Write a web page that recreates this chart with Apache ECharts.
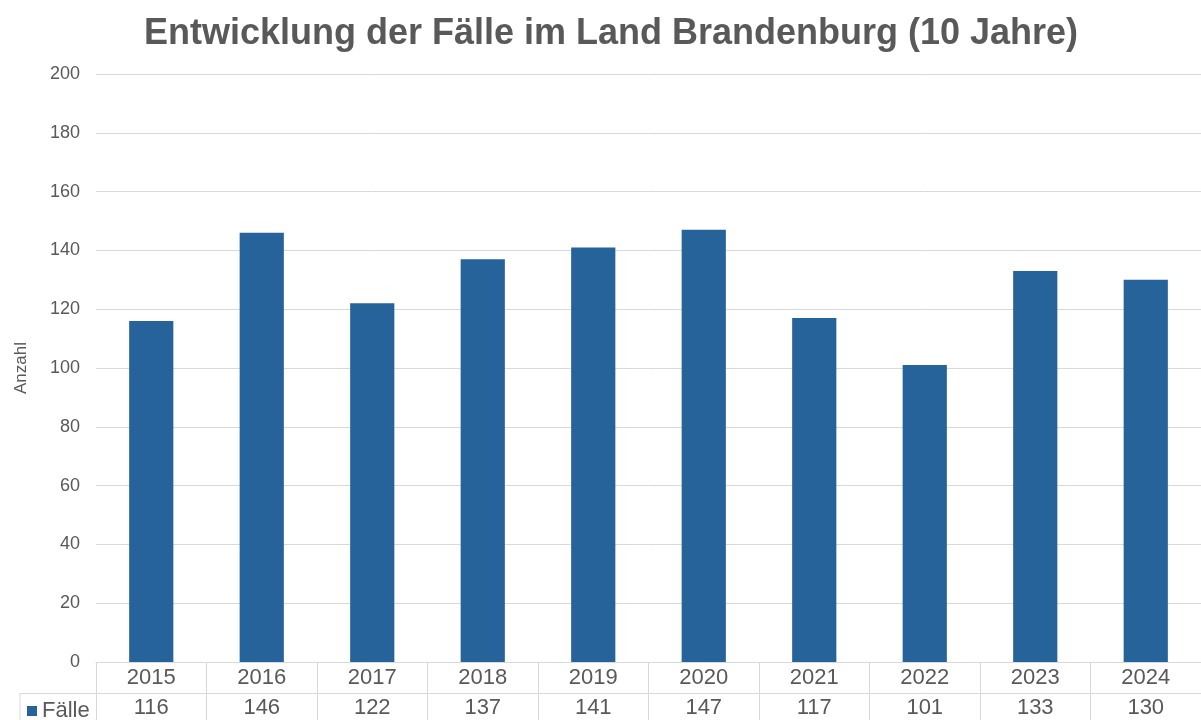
<!DOCTYPE html>
<html>
<head>
<meta charset="utf-8">
<script src="https://cdn.jsdelivr.net/npm/echarts@6/dist/echarts.min.js"></script>
<style>
  html, body { margin: 0; padding: 0; background: #fff; }
  #chart { width: 1201px; height: 720px; }
</style>
</head>
<body>
<div id="chart"></div>
<script>
const years = ["2015", "2016", "2017", "2018", "2019", "2020", "2021", "2022", "2023", "2024"];
const faelle = [116, 146, 122, 137, 141, 147, 117, 101, 133, 130];
const yTicks = { min: 0, max: 200, interval: 20 };

const textColor = "#595959";
const lineColor = "#d9d9d9";
const barColor = "#26639b";
const font = "Liberation Sans, Arial, sans-serif";

const chart = echarts.init(document.getElementById("chart"));

chart.setOption({
  animation: false,
  title: {
    text: "Entwicklung der Fälle im Land Brandenburg (10 Jahre)",
    left: 606,
    textAlign: "center",
    top: 11,
    textStyle: { fontFamily: font, fontSize: 36, fontWeight: "bold", color: textColor }
  },
  legend: {
    data: ["Fälle"],
    left: 22,
    top: 695,
    icon: "rect",
    itemWidth: 10,
    itemHeight: 10,
    itemGap: 5,
    textStyle: { fontFamily: font, fontSize: 22, color: textColor, padding: [0, 0, 0, 0] }
  },
  grid: { left: 96, right: 0, top: 74, bottom: 58 },
  xAxis: [
    {
      type: "category",
      data: years,
      axisLine: { lineStyle: { color: lineColor } },
      axisTick: { show: true, length: 58, lineStyle: { color: lineColor } },
      axisLabel: { margin: 5, fontFamily: font, fontSize: 22, color: textColor }
    },
    {
      type: "category",
      position: "bottom",
      offset: 31,
      data: faelle.map(String),
      axisLine: { lineStyle: { color: lineColor } },
      axisTick: { show: false },
      axisLabel: { margin: 4, fontFamily: font, fontSize: 22, color: textColor }
    }
  ],
  yAxis: {
    type: "value",
    min: yTicks.min,
    max: yTicks.max,
    interval: yTicks.interval,
    name: "Anzahl",
    nameLocation: "middle",
    nameGap: 66,
    nameTextStyle: { fontFamily: font, fontSize: 17, color: textColor },
    axisLine: { show: false },
    axisTick: { show: false },
    axisLabel: { margin: 16, fontFamily: font, fontSize: 18, color: textColor },
    splitLine: { lineStyle: { color: lineColor } }
  },
  graphic: [
    {
      type: "polyline",
      shape: { points: [[20, 720], [20, 693.5], [96, 693.5]] },
      style: { stroke: lineColor, fill: null, lineWidth: 1 }
    }
  ],
  series: [
    {
      name: "Fälle",
      type: "bar",
      data: faelle,
      barWidth: "40%",
      itemStyle: { color: barColor }
    }
  ]
});
</script>
</body>
</html>
